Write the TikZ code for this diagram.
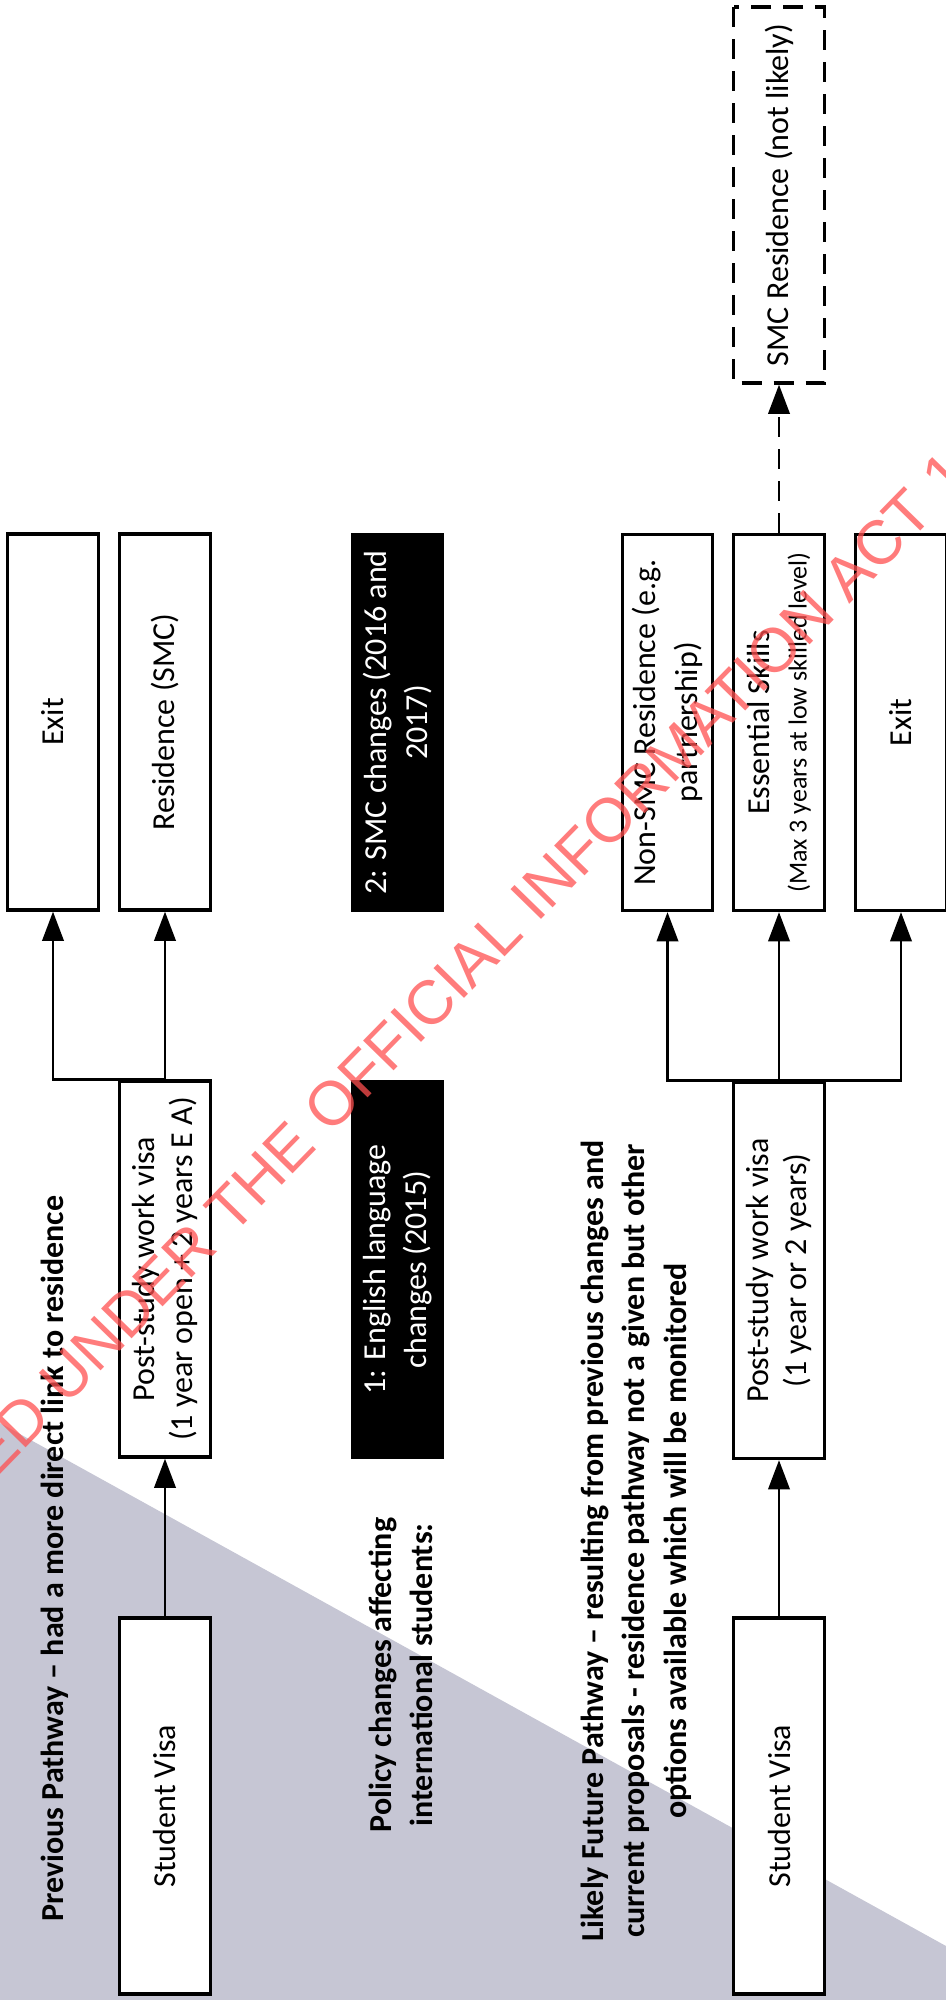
\documentclass[tikz,border=0pt]{standalone}
\usepackage{fontspec}
\setmainfont{Carlito}
\newfontfamily\stampfont{Liberation Sans}
\usepackage{tikz}
\usetikzlibrary{shapes,arrows.meta,positioning}
\definecolor{greytri}{RGB}{198,198,212}
\definecolor{stamp}{RGB}{255,80,80}

\begin{document}
\begin{tikzpicture}[x=0.75pt, y=0.75pt,
  font=\fontsize{24}{28}\selectfont,
  pathbox/.style={draw, line width=2.4pt, fill=white, rotate=90, minimum width=282pt,
    minimum height=68pt, inner sep=2pt, align=center},
  blackbox/.style={pathbox, fill=black, text=white, font=\fontsize{24}{31}\selectfont},
  dashbox/.style={pathbox, dash pattern=on 15pt off 9pt},
  heading/.style={rotate=90, inner sep=0pt, align=center, font=\bfseries\fontsize{24}{31}\selectfont},
  link/.style={line width=2.2pt, -{Triangle[length=22pt, width=16pt]}}]
  \useasboundingbox (0,0) rectangle (946,-2000);
  \clip (0,0) rectangle (946,-2000);
  \fill[greytri] (0,-1423) -- (946,-1946) -- (946,-2000) -- (0,-2000) -- cycle;

    \node[heading, anchor=base west] (prevhead) at (63,-1922) {Previous Pathway – had a more direct link to residence};
    \node[heading] (policyhead) at (401,-1675) {Policy changes affecting\\international students:};
    \node[heading] (futurehead) at (636,-1541) {Likely Future Pathway – resulting from previous changes and\\current proposals - residence pathway not a given but other\\options available which will be monitored};

    \node[pathbox] (exitA) at (53,-722) {Exit};
    \node[pathbox] (resA) at (165,-722) {Residence (SMC)};
    \node[pathbox] (postA) at (165,-1269) {Post-study work visa\\(1 year open + 2 years E A)};
    \node[pathbox] (studentA) at (165,-1806) {Student Visa};

    \node[blackbox] (changeB) at (397.5,-722.5) {2: SMC changes (2016 and\\2017)};
    \node[blackbox] (changeA) at (397.5,-1269.5) {1: English language\\changes (2015)};

    \node[pathbox, font=\fontsize{24}{31}\selectfont] (nonsmc) at (667.5,-722.5) {Non-SMC Residence (e.g.\\partnership)};
    \node[pathbox] (skills) at (779,-722.5) {Essential Skills\\{\fontsize{19.5}{23}\selectfont (Max 3 years at low skilled level)}};
    \node[pathbox] (exitB) at (901,-722.5) {Exit};
    \node[pathbox] (postB) at (779,-1270.5) {Post-study work visa\\(1 year or 2 years)};
    \node[pathbox] (studentB) at (779,-1806) {Student Visa};
    \node[dashbox] (smcres) at (779,-195) {SMC Residence (not likely)};

    \draw[link] (studentA.east) -- (postA.west);
    \draw[link] (postA.east) -- (resA.west);
    \draw[link] (postA.east) -| (exitA.west);
    \draw[link] (studentB.east) -- (postB.west);
    \draw[link] (postB.east) -- (skills.west);
    \draw[link] (postB.east) -| (nonsmc.west);
    \draw[link] (postB.east) -| (exitB.west);
    \draw[link, dash pattern=on 15pt off 9pt] (skills.east) -- (smcres.west);

    \node[rotate=45.7, anchor=base west, inner sep=0pt, text=stamp, text opacity=0.75,
      font=\stampfont\fontsize{46.5}{50}\selectfont] (stampline) at (-177,-1656) {RELEASED UNDER THE OFFICIAL INFORMATION ACT 1982};
\end{tikzpicture}
\end{document}
